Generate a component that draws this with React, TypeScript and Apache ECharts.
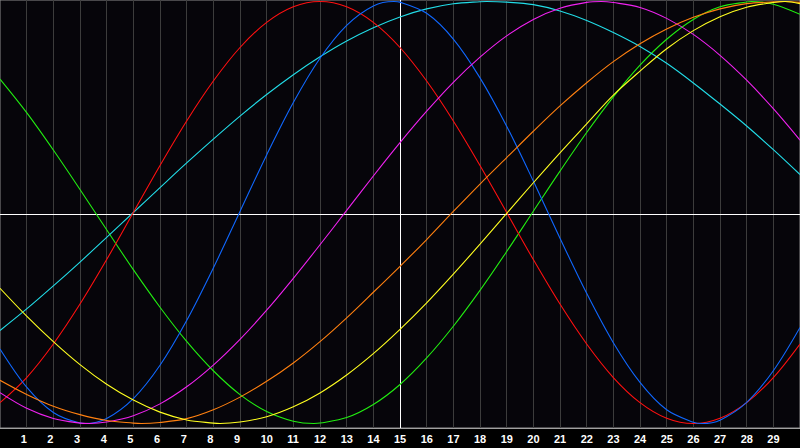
import React, { useEffect, useRef } from "react";
import * as echarts from "echarts";

// x positions (value axis 0..30)
const xs = [0, 1, 2, 3, 4, 5, 6, 7, 8, 9, 10, 11, 12, 13, 14, 15, 16, 17, 18, 19, 20, 21, 22, 23, 24, 25, 26, 27, 28, 29, 30];

// curve values, one value per x position
const red = [-0.901, -0.782, -0.623, -0.434, -0.223, 0, 0.223, 0.434, 0.623, 0.782, 0.901, 0.975, 1, 0.975, 0.901, 0.782, 0.623, 0.434, 0.223, 0, -0.223, -0.434, -0.623, -0.782, -0.901, -0.975, -1, -0.975, -0.901, -0.782, -0.623];
const blue = [-0.647, -0.828, -0.948, -0.998, -0.976, -0.882, -0.724, -0.512, -0.263, 0.005, 0.273, 0.521, 0.731, 0.887, 0.979, 0.997, 0.944, 0.822, 0.638, 0.409, 0.149, -0.122, -0.383, -0.617, -0.805, -0.935, -0.994, -0.984, -0.9, -0.75, -0.545];
const cyan = [-0.559, -0.457, -0.348, -0.235, -0.118, 0, 0.118, 0.235, 0.348, 0.457, 0.559, 0.653, 0.738, 0.813, 0.876, 0.927, 0.965, 0.989, 0.999, 0.997, 0.985, 0.955, 0.91, 0.853, 0.787, 0.707, 0.614, 0.514, 0.41, 0.298, 0.18];
const magenta = [-0.854, -0.928, -0.976, -0.998, -0.993, -0.963, -0.907, -0.826, -0.723, -0.601, -0.463, -0.312, -0.153, 0.01, 0.173, 0.331, 0.48, 0.617, 0.736, 0.837, 0.915, 0.968, 0.996, 0.995, 0.972, 0.92, 0.844, 0.745, 0.627, 0.492, 0.343];
const orange = [-0.795, -0.862, -0.918, -0.958, -0.986, -0.998, -0.995, -0.977, -0.935, -0.875, -0.8, -0.713, -0.612, -0.499, -0.378, -0.255, -0.128, 0.005, 0.135, 0.26, 0.385, 0.505, 0.615, 0.715, 0.8, 0.87, 0.925, 0.965, 0.99, 0.998, 0.996];
const yellow = [-0.359, -0.491, -0.612, -0.721, -0.814, -0.889, -0.946, -0.983, -0.998, -0.993, -0.968, -0.921, -0.855, -0.77, -0.669, -0.554, -0.428, -0.292, -0.15, -0.004, 0.141, 0.283, 0.42, 0.556, 0.67, 0.776, 0.862, 0.928, 0.973, 0.995, 0.99];
const green = [0.632, 0.473, 0.296, 0.109, -0.082, -0.271, -0.449, -0.611, -0.75, -0.863, -0.943, -0.989, -0.998, -0.972, -0.91, -0.815, -0.689, -0.539, -0.369, -0.185, 0.006, 0.196, 0.379, 0.548, 0.698, 0.821, 0.915, 0.975, 0.998, 0.987, 0.939];

// turning points (peaks / troughs): [x, value]
const redTurns: number[][] = [];
const blueTurns = [[3.2, -1], [14.77, 1], [26.34, -1]];
const cyanTurns = [[18.25, 1]];
const magentaTurns = [[3.35, -1], [22.55, 1]];
const orangeTurns = [[5.3, -1], [29.4, 1]];
const yellowTurns = [[8.25, -1], [29.45, 1]];
const greenTurns = [[11.77, -1], [28.17, 1]];

// reference cross lines
const refLevel = -0.009;
const refX = 15;

// axis extents
const xMin = 0;
const xMax = 30;
const yMin = -1.0213;
const yMax = 1.0071;

const seriesDefs = [
  { name: "green", values: green, turns: greenTurns, color: "#22ee11" },
  { name: "cyan", values: cyan, turns: cyanTurns, color: "#22dde8" },
  { name: "red", values: red, turns: redTurns, color: "#ff1010" },
  { name: "blue", values: blue, turns: blueTurns, color: "#1068ff" },
  { name: "magenta", values: magenta, turns: magentaTurns, color: "#f022f0" },
  { name: "orange", values: orange, turns: orangeTurns, color: "#ff8010" },
  { name: "yellow", values: yellow, turns: yellowTurns, color: "#ffff20" },
];

function buildData(values: number[], turns: number[][]) {
  const pts = xs.map((x, i) => [x, values[i]]).concat(turns.map((t) => [t[0], t[1]]));
  pts.sort((a, b) => a[0] - b[0]);
  return pts;
}

export default function App() {
  const ref = useRef<HTMLDivElement>(null);

  useEffect(() => {
    if (!ref.current) return;
    const chart = echarts.init(ref.current, undefined, { renderer: "svg" });

    const series: any[] = seriesDefs.map((s, idx) => ({
      name: s.name,
      type: "line",
      data: buildData(s.values, s.turns),
      smooth: 0.333,
      showSymbol: false,
      symbol: "none",
      silent: true,
      clip: false,
      lineStyle: { color: s.color, width: 1.1 },
      itemStyle: { color: s.color },
      z: 3,
      markLine:
        idx === 0
          ? {
              silent: true,
              symbol: ["none", "none"],
              label: { show: false },
              lineStyle: { color: "#ffffff", width: 1, type: "solid" },
              data: [{ yAxis: refLevel }, { xAxis: refX }],
              z: 2,
            }
          : undefined,
    }));

    chart.setOption({
      animation: false,
      backgroundColor: "#000000",
      grid: {
        left: 0,
        right: 0,
        top: 0,
        bottom: 20,
        show: true,
        backgroundColor: "#06050a",
        borderColor: "#8c8c8c",
        borderWidth: 1,
      },
      xAxis: {
        type: "value",
        min: xMin,
        max: xMax,
        interval: 1,
        axisLine: { show: true, onZero: false, lineStyle: { color: "#a0a0a0", width: 1 } },
        axisTick: { show: false },
        splitLine: {
          show: true,
          showMinLine: false,
          showMaxLine: false,
          lineStyle: { color: "#3c3c3c", width: 1 },
        },
        axisLabel: {
          show: true,
          margin: 5,
          hideOverlap: false,
          showMinLabel: false,
          showMaxLabel: false,
          color: "#ffffff",
          fontSize: 11,
          fontWeight: "bold",
          fontFamily: "Liberation Sans",
          formatter: (v: number) => (v >= 1 && v <= 29 ? `{n|${v}}` : ""),
          rich: {
            n: {
              width: 12,
              align: "left",
              color: "#ffffff",
              fontSize: 11,
              fontWeight: "bold",
              fontFamily: "Liberation Sans",
            },
          },
        },
      },
      yAxis: {
        type: "value",
        min: yMin,
        max: yMax,
        axisLine: { show: false },
        axisTick: { show: false },
        axisLabel: { show: false },
        splitLine: { show: false },
      },
      series,
    });

    return () => chart.dispose();
  }, []);

  return (
    <div
      ref={ref}
      style={{ position: "fixed", left: 0, top: 0, width: 800, height: 448, background: "#000" }}
    />
  );
}
